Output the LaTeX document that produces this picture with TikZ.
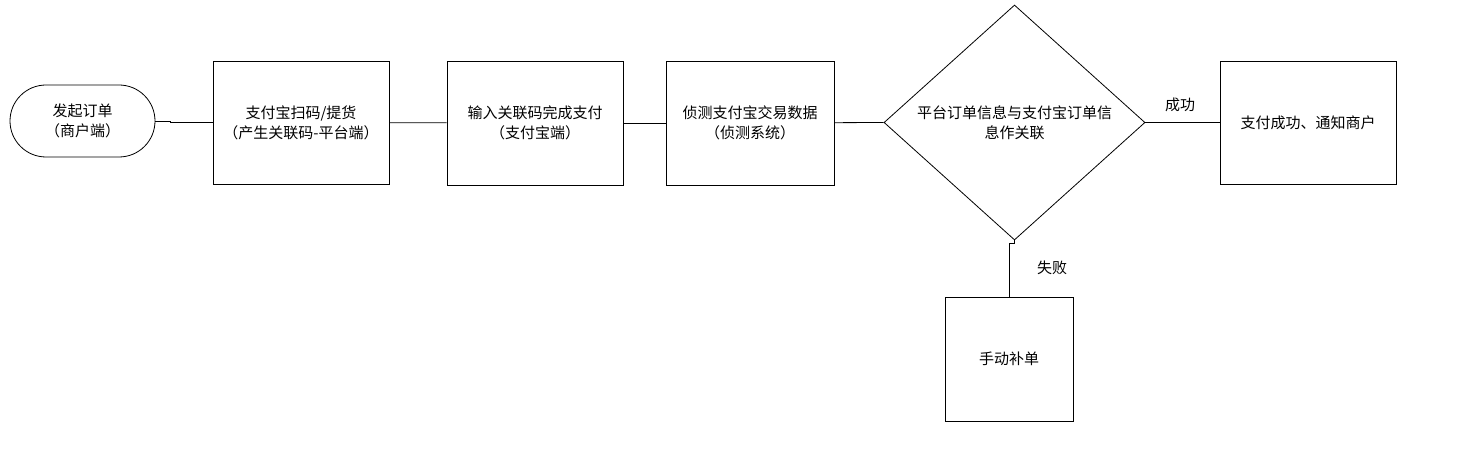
\documentclass[tikz,border=0pt]{standalone}
\usepackage{fontspec}
\newfontfamily\cjk[Kerning=Off]{Noto Sans CJK SC}
\usetikzlibrary{shapes.geometric}
\begin{document}
\begin{tikzpicture}[x = 1pt, y = -1pt]
		\tikzstyle{every node} = [font = \cjk\fontsize{15}{20}\selectfont]
		\tikzstyle{box} = [draw, line width = .8pt, align = center, inner sep = 0pt]
		\tikzstyle{link} = [line width = .8pt]
		\useasboundingbox (0,0) rectangle (1472,449);

		\node[box, rounded corners = 36pt, minimum width = 145pt, minimum height = 72pt] (order) at (82.5,121) {发起订单\\（商户端）};
		\node[box, minimum width = 176pt, minimum height = 123pt] (scan) at (301,122.5) {支付宝扫码/提货\\（产生关联码-平台端）};
		\node[box, minimum width = 176pt, minimum height = 124pt] (pay) at (535,123) {输入关联码完成支付\\（支付宝端）};
		\node[box, minimum width = 168pt, minimum height = 124pt] (detect) at (750,123) {侦测支付宝交易数据\\（侦测系统）};
		\node[box, diamond, minimum width = 261pt, minimum height = 235pt] (match) at (1014.5,122.5) {平台订单信息与支付宝订单信\\息作关联};
		\node[box, minimum width = 176pt, minimum height = 123pt] (notify) at (1308,122.5) {支付成功、通知商户};
		\node[box, minimum width = 128pt, minimum height = 124pt] (manual) at (1009,359) {手动补单};

		\draw[link] (order.east) -- ++(15,0) |- (scan.west); %order to scan
		\draw[link] (scan) -- (pay); %scan to pay
		\draw[link] (pay) -- (detect); %pay to detect
		\draw[link] (detect) -- (match.west); %detect to match
		\draw[link] (match.east) -- (notify.west); %match to notify
		\draw[link] (match.south) -- ++(0,3) -| (manual.north); %match to manual

		\node (ok) at (1180,105) {成功};
		\node (fail) at (1052,268) {失败};
	\end{tikzpicture}
\end{document}
